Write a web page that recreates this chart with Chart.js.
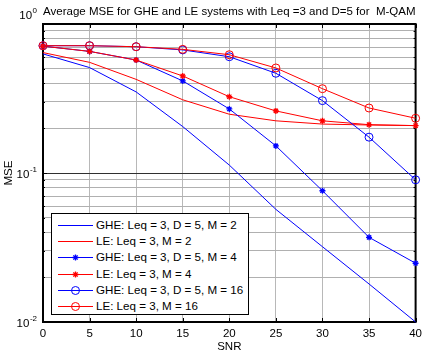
<!DOCTYPE html>
<html><head><meta charset="utf-8">
<script src="https://cdn.jsdelivr.net/npm/chart.js@4/dist/chart.umd.min.js"></script>
<style>
html,body{margin:0;padding:0;background:#fff;}
#wrap{position:relative;width:427px;height:354px;}
#legend{position:absolute;left:51px;top:213px;width:196px;height:100px;border:1px solid #000;background:#fff;font:11.6px 'Liberation Sans',Arial,sans-serif;color:#000;}
.item{position:absolute;left:0;height:16px;width:196px;}
.item canvas{position:absolute;left:6px;top:0;}
.item span{position:absolute;left:44px;top:0;line-height:16px;white-space:nowrap;}
</style></head>
<body>
<div id="wrap"><canvas id="c" width="427" height="354"></canvas><div id="legend"></div></div>
<script>
// ---- data ----
const snr = [0, 5, 10, 15, 20, 25, 30, 35, 40];
const gheM2  = [0.63, 0.51, 0.35, 0.205, 0.113, 0.057, 0.032, 0.018, 0.010];
const leM2   = [0.643, 0.553, 0.425, 0.31, 0.248, 0.224, 0.213, 0.210, 0.208];
const gheM4  = [0.71, 0.655, 0.573, 0.415, 0.269, 0.152, 0.076, 0.037, 0.0248];
const leM4   = [0.71, 0.655, 0.573, 0.448, 0.325, 0.261, 0.224, 0.211, 0.208];
const gheM16 = [0.715, 0.715, 0.704, 0.670, 0.603, 0.467, 0.306, 0.174, 0.090];
const leM16  = [0.715, 0.715, 0.704, 0.676, 0.622, 0.507, 0.368, 0.273, 0.233];
const seriesNames = ['GHE: Leq = 3, D = 5, M = 2', 'LE: Leq = 3, M = 2', 'GHE: Leq = 3, D = 5, M = 4', 'LE: Leq = 3, M = 4', 'GHE: Leq = 3, D = 5, M = 16', 'LE: Leq = 3, M = 16'];
const xTicks = [0, 5, 10, 15, 20, 25, 30, 35, 40];
const yDecades = [1, 0.1, 0.01];
const yExponents = ['0', '-1', '-2'];
const titleText = 'Average MSE for GHE and LE systems with Leq =3 and D=5 for  M-QAM';
const xTitle = 'SNR';
const yTitle = 'MSE';

// ---- styling ----
const FONT = "'Liberation Sans', Arial, sans-serif";
const FS = 11.5;
const BLUE = '#0000ff', RED = '#ff0000';
const seriesValues = [gheM2, leM2, gheM4, leM4, gheM16, leM16];
const seriesStyle = [
  {color: BLUE, marker: false},
  {color: RED, marker: false},
  {color: BLUE, marker: 'star'},
  {color: RED, marker: 'star'},
  {color: BLUE, marker: 'circle'},
  {color: RED, marker: 'circle'}
];

const datasets = seriesValues.map((vals, i) => {
  const st = seriesStyle[i];
  return {
    label: seriesNames[i],
    data: snr.map((x, k) => ({x: x, y: vals[k]})),
    borderColor: st.color,
    backgroundColor: 'rgba(0,0,0,0)',
    borderWidth: 1,
    tension: 0,
    clip: false,
    order: 10 - i,
    pointStyle: st.marker || 'circle',
    pointRadius: st.marker === 'circle' ? 4 : (st.marker === 'star' ? 3 : 0),
    pointBorderWidth: st.marker === 'star' ? 1.3 : 1,
    pointBorderColor: st.color,
    pointBackgroundColor: 'rgba(0,0,0,0)',
    pointHoverRadius: 0
  };
});

const yTickVals = [];
[0.01, 0.1].forEach(d => { for (let m = 1; m <= 9; m++) yTickVals.push(+(d * m).toPrecision(3)); });
yTickVals.push(1);
const isDecade = v => yDecades.some(d => Math.abs(d - v) < 1e-9);

const framePlugin = {
  id: 'frame',
  beforeDatasetsDraw(chart) {
    const {ctx, chartArea: a, scales} = chart;
    ctx.save();
    ctx.strokeStyle = '#000';
    ctx.lineWidth = 1;
    ctx.beginPath();
    xTicks.forEach(v => {
      const x = Math.round(scales.x.getPixelForValue(v)) + 0.5;
      ctx.moveTo(x, a.bottom); ctx.lineTo(x, a.bottom - 4);
      ctx.moveTo(x, a.top); ctx.lineTo(x, a.top + 4);
    });
    yTickVals.forEach(v => {
      const y = Math.round(scales.y.getPixelForValue(v)) + 0.5;
      const L = isDecade(v) ? 4 : 2;
      ctx.moveTo(a.left, y); ctx.lineTo(a.left + L, y);
      ctx.moveTo(a.right, y); ctx.lineTo(a.right - L, y);
    });
    ctx.stroke();
    ctx.lineWidth = 2;
    ctx.strokeRect(a.left, a.top, a.right - a.left, a.bottom - a.top);
    ctx.restore();
  },
  afterDraw(chart) {
    const {ctx, scales} = chart;
    ctx.save();
    ctx.fillStyle = '#000';
    ctx.textBaseline = 'middle';
    yDecades.forEach((v, i) => {
      let y = scales.y.getPixelForValue(v);
      y += (i === 0) ? -8 : 1.5;
      const exp = yExponents[i];
      ctx.font = '8px ' + FONT;
      const ew = ctx.measureText(exp).width;
      const xr = 37;
      ctx.textAlign = 'left';
      ctx.fillText(exp, xr - ew, y - 5);
      ctx.font = FS + 'px ' + FONT;
      ctx.textAlign = 'right';
      ctx.fillText('10', xr - ew - 0.5, y);
    });
    ctx.restore();
  }
};

const chart = new Chart(document.getElementById('c'), {
  type: 'line',
  data: {datasets},
  plugins: [framePlugin],
  options: {
    responsive: false,
    animation: false,
    events: [],
    layout: {padding: {left: 0, right: 6, top: 0, bottom: 0}},
    plugins: {
      legend: {display: false},
      tooltip: {enabled: false},
      title: {
        display: true, text: titleText, fullSize: false, color: '#000',
        font: {family: FONT, size: FS, weight: 'normal', lineHeight: 1.2},
        padding: {top: 4.5, bottom: 5.7}
      }
    },
    scales: {
      x: {
        type: 'linear', min: 0, max: 40,
        afterFit: s => { s.height = 32; },
        afterBuildTicks: s => { s.ticks = xTicks.map(v => ({value: v})); },
        ticks: {color: '#000', font: {family: FONT, size: FS}, padding: 5, maxRotation: 0, autoSkip: false},
        grid: {color: '#b8b8b8', lineWidth: 1, drawTicks: false},
        border: {display: false},
        title: {display: true, text: xTitle, color: '#000', font: {family: FONT, size: FS, lineHeight: 1.2}, padding: {top: 0, bottom: 0}}
      },
      y: {
        type: 'logarithmic', min: 0.01, max: 1,
        afterFit: s => { s.width = 43; },
        afterBuildTicks: s => { s.ticks = yTickVals.map(v => ({value: v, major: isDecade(v)})); },
        ticks: {display: false},
        grid: {color: c => (c.tick && isDecade(c.tick.value)) ? '#303030' : '#b0b0b0', lineWidth: 1, drawTicks: false},
        border: {display: false},
        title: {display: true, text: yTitle, color: '#000', font: {family: FONT, size: FS, lineHeight: 1.2}, padding: {top: 1.5, bottom: 0}}
      }
    }
  }
});

// ---- HTML legend built from the datasets ----
const legend = document.getElementById('legend');
chart.data.datasets.forEach((ds, i) => {
  const item = document.createElement('div');
  item.className = 'item';
  item.style.top = (3 + i * 16.2) + 'px';
  const cv = document.createElement('canvas');
  cv.width = 36; cv.height = 16;
  const g = cv.getContext('2d');
  g.strokeStyle = ds.borderColor; g.lineWidth = 1;
  g.beginPath(); g.moveTo(0, 8.5); g.lineTo(35, 8.5); g.stroke();
  const st = seriesStyle[i];
  const cx = 17.5, cy = 8.5;
  if (st.marker === 'circle') {
    g.beginPath(); g.arc(cx, cy, 4, 0, Math.PI * 2); g.stroke();
  } else if (st.marker === 'star') {
    g.lineWidth = 1.3; g.beginPath();
    const r = 3;
    g.moveTo(cx - r, cy); g.lineTo(cx + r, cy);
    g.moveTo(cx, cy - r); g.lineTo(cx, cy + r);
    const d = r * Math.SQRT1_2;
    g.moveTo(cx - d, cy - d); g.lineTo(cx + d, cy + d);
    g.moveTo(cx - d, cy + d); g.lineTo(cx + d, cy - d);
    g.stroke();
  }
  item.appendChild(cv);
  const sp = document.createElement('span');
  sp.textContent = ds.label;
  item.appendChild(sp);
  legend.appendChild(item);
});
</script>
</body></html>
